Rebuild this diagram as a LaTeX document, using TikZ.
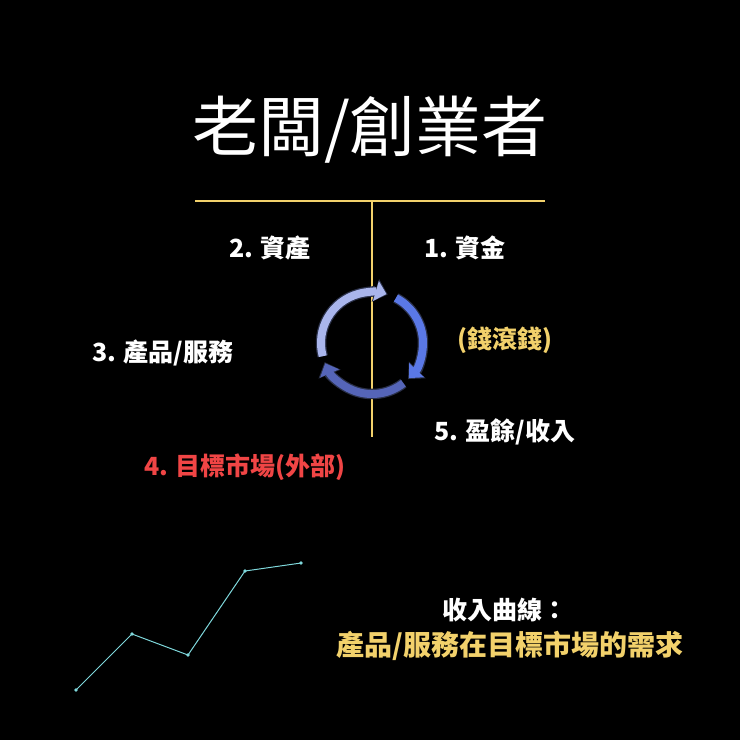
\documentclass[tikz,border=0pt]{standalone}
\usepackage{fontspec}
\setmainfont{Noto Sans CJK TC}
\usetikzlibrary{arrows.meta}
\definecolor{ylw}{HTML}{F2D16B}
\definecolor{rd}{HTML}{F04545}
\definecolor{cy}{HTML}{7FD8DC}
\definecolor{c1}{HTML}{A9B5EC}
\definecolor{c2}{HTML}{5A78E6}
\definecolor{c3}{HTML}{5565B8}
\definecolor{ol}{HTML}{2A3048}
\tikzset{lbl/.style={text=white,font=\fontsize{25}{28}\bfseries\selectfont},
  rl/.style={line width=8pt,-{Triangle[length=11pt,width=20pt]}}}
\begin{document}
\begin{tikzpicture}[x=1pt,y=1pt]
\fill[black] (0,0) rectangle (740,-740);
\useasboundingbox (0,0) rectangle (740,-740);
\node (t) at (370,-130) {\color{white}\fontsize{66}{72}\selectfont 老闆/創業者};
\coordinate (hl) at (195,-201); \coordinate (hr) at (545,-201);
\coordinate (vt) at (372,-201); \coordinate (vb) at (372,-437);
\draw[ylw,line width=1.5pt] (hl)--(hr);
\draw[ylw,line width=1.5pt] (vt)--(vb);
\coordinate (c) at (372,-343);
\foreach \s/\e/\col in {195/72/c1,62/-45/c2,-52/-158/c3}{
 \draw[ol,line width=10.5pt,-{Triangle[length=13pt,width=23pt]}] (c)++(\s:51) arc[start angle=\s,end angle=\e,radius=51];
 \draw[\col,rl] (c)++(\s:51) arc[start angle=\s,end angle=\e+1.5,radius=51];
}
\node[lbl] (a2) at (270,-248) {2. 資產};
\node[lbl] (a1) at (465,-248) {1. 資金};
\node[lbl] (a3) at (163,-353) {3. 產品/服務};
\node[lbl,text=ylw] (m) at (505,-340) {(錢滾錢)};
\node[lbl] (a5) at (505,-432) {5. 盈餘/收入};
\node[lbl,text=rd] (a4) at (245,-467) {4. 目標市場(外部)};
\node[lbl] (k) at (505,-610) {收入曲線：};
\node[lbl,text=ylw,font=\fontsize{28}{31}\bfseries\selectfont] (d) at (510,-646) {產品/服務在目標市場的需求};
\foreach \n/\x/\y in {p1/76/690,p2/132/634,p3/188/655,p4/245/571,p5/301/563}
  \coordinate (\n) at (\x,-\y);
\draw[cy,line width=1pt] (p1)--(p2)--(p3)--(p4)--(p5);
\foreach \n in {p1,p2,p3,p4,p5} \fill[cy] (\n) circle (1.8);
\end{tikzpicture}
\end{document}
